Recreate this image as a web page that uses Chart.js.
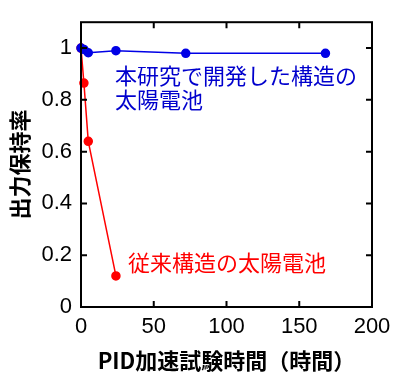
<!DOCTYPE html>
<html>
<head>
<meta charset="utf-8">
<script src="https://cdn.jsdelivr.net/npm/chart.js@4/dist/chart.umd.min.js"></script>
<style>
  html, body { margin: 0; padding: 0; background: #fff; }
  #wrap { width: 402px; height: 374px; }
</style>
</head>
<body>
<div id="wrap"><canvas id="pidChart" width="402" height="374"></canvas></div>
<script>
// data
var newHours = [0, 2, 5, 24, 72, 168];
var newRetention = [1.0, 0.995, 0.982, 0.99, 0.98, 0.98];
var oldHours = [0, 2, 5, 24];
var oldRetention = [1.0, 0.865, 0.64, 0.12];
var xTicks = [0, 50, 100, 150, 200];
var yTicks = [0, 0.2, 0.4, 0.6, 0.8, 1];

var fontFamily = "'Liberation Sans', Arial, 'Noto Sans CJK JP', sans-serif";
var cjkFamily = "'Noto Sans CJK JP', 'Liberation Sans', sans-serif";
var blue = 'rgb(0, 0, 230)';
var blueText = 'rgb(0, 0, 205)';
var red = 'rgb(255, 0, 0)';

function toPoints(xs, ys) {
    return xs.map(function (x, i) { return { x: x, y: ys[i] }; });
}

// inward ticks on all four sides plus the box, and the two labels
var framePlugin = {
    id: 'frame',
    afterDraw: function (chart) {
        var c = chart.ctx, a = chart.chartArea;
        var xs = chart.scales.x, ys = chart.scales.y;
        var len = 6;
        c.save();
        c.strokeStyle = '#000';
        c.lineWidth = 2;
        c.beginPath();
        xTicks.forEach(function (v) {
            var px = xs.getPixelForValue(v);
            c.moveTo(px, a.bottom); c.lineTo(px, a.bottom - len);
            c.moveTo(px, a.top); c.lineTo(px, a.top + len);
        });
        yTicks.forEach(function (v) {
            var py = ys.getPixelForValue(v);
            c.moveTo(a.left, py); c.lineTo(a.left + len, py);
            c.moveTo(a.right, py); c.lineTo(a.right - len, py);
        });
        c.stroke();
        c.strokeRect(a.left, a.top, a.right - a.left, a.bottom - a.top);

        c.font = '22px ' + cjkFamily;
        c.textBaseline = 'middle';
        c.textAlign = 'left';
        c.fillStyle = blueText;
        c.fillText('本研究で開発した構造の', xs.getPixelForValue(23.4), ys.getPixelForValue(0.894));
        c.fillText('太陽電池', xs.getPixelForValue(23.4), ys.getPixelForValue(0.80));
        c.fillStyle = red;
        c.fillText('従来構造の太陽電池', xs.getPixelForValue(32.3), ys.getPixelForValue(0.171));
        c.restore();
    }
};

var ctx = document.getElementById('pidChart').getContext('2d');

var myChart = new Chart(ctx, {
    type: 'scatter',
    data: {
        datasets: [{
            label: '本研究で開発した構造の太陽電池',
            data: toPoints(newHours, newRetention),
            showLine: true,
            borderColor: blue,
            backgroundColor: blue,
            borderWidth: 1.5,
            pointRadius: 4,
            pointHoverRadius: 4
        }, {
            label: '従来構造の太陽電池',
            data: toPoints(oldHours, oldRetention),
            showLine: true,
            borderColor: red,
            backgroundColor: red,
            borderWidth: 1.5,
            pointRadius: 4,
            pointHoverRadius: 4
        }]
    },
    options: {
        responsive: false,
        animation: false,
        clip: false,
        layout: { padding: { top: 17, right: 30, left: 0, bottom: 0 } },
        plugins: {
            legend: { display: false },
            tooltip: { enabled: false }
        },
        scales: {
            x: {
                type: 'linear',
                min: 0,
                max: 200,
                afterBuildTicks: function (scale) {
                    scale.ticks = xTicks.map(function (v) { return { value: v }; });
                },
                afterFit: function (scale) { scale.height = 67; },
                grid: { display: false, drawTicks: false },
                border: { display: false },
                ticks: {
                    color: '#000',
                    padding: 7,
                    maxRotation: 0,
                    font: { family: fontFamily, size: 22 }
                },
                title: {
                    display: true,
                    text: 'PID加速試験時間（時間）',
                    color: '#000',
                    padding: { top: 4, bottom: 0 },
                    font: { family: cjkFamily, size: 22, weight: 'bold' }
                }
            },
            y: {
                type: 'linear',
                min: 0,
                max: 1.1,
                afterBuildTicks: function (scale) {
                    scale.ticks = yTicks.map(function (v) { return { value: v }; });
                },
                afterFit: function (scale) { scale.width = 81; },
                grid: { display: false, drawTicks: false },
                border: { display: false },
                ticks: {
                    color: '#000',
                    padding: 9,
                    callback: function (v) { return String(v); },
                    font: { family: fontFamily, size: 22 }
                },
                title: {
                    display: true,
                    text: '出力保持率',
                    color: '#000',
                    padding: { top: 6, bottom: 0 },
                    font: { family: cjkFamily, size: 22, weight: 'bold' }
                }
            }
        }
    },
    plugins: [framePlugin]
});
</script>
</body>
</html>
